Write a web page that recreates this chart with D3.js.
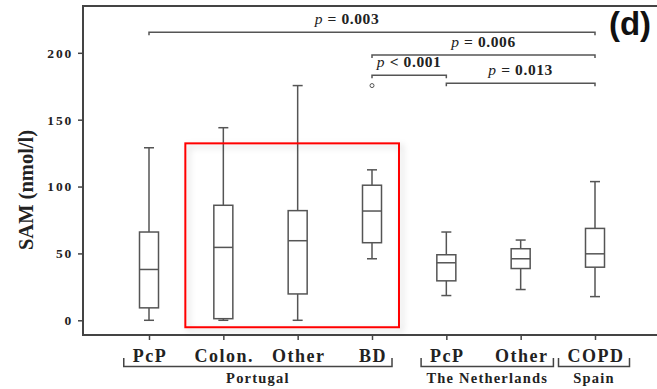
<!DOCTYPE html>
<html>
<head>
<meta charset="utf-8">
<script src="https://cdn.jsdelivr.net/npm/d3@7/dist/d3.min.js"></script>
<style>
  body { margin: 0; background: #fff; }
  svg { display: block; }
</style>
</head>
<body>
<div id="chart"></div>
<script>
// box plot values (nmol/l)
const categories  = ['PcP', 'Colon.', 'Other', 'BD', 'PcP', 'Other', 'COPD'];
const whiskerLow  = [0, 0, 0, 46, 18.5, 23, 17.7];
const q1          = [9.3, 1.2, 19.7, 58, 29.5, 38.7, 39.7];
const median      = [38, 54.5, 59.5, 81.7, 43, 46, 49.7];
const q3          = [66, 86, 82, 101, 49, 53.5, 68.7];
const whiskerHigh = [129, 144, 175.5, 112.5, 66, 60, 103.7];
const outliers    = [{ cat: 3, value: 175.5 }];
const yTicks      = [0, 50, 100, 150, 200];

const groups = [
  { name: 'Portugal', from: 0, to: 3 },
  { name: 'The Netherlands', from: 4, to: 5 },
  { name: 'Spain', from: 6, to: 6 }
];

// significance brackets (level = height in data units)
const comparisons = [
  { from: 0, to: 6, level: 215.3, label: '= 0.003', dx: -25 },
  { from: 3, to: 6, level: 198.3, label: '= 0.006', dx: 0 },
  { from: 3, to: 4, level: 183.3, label: '< 0.001', dx: 0 },
  { from: 4, to: 6, level: 177.2, label: '= 0.013', dx: 0 }
];

const SERIF = '"Liberation Serif", "Times New Roman", Times, serif';
const width = 657, height = 389;
const plotLeft = 83, plotTop = 6, plotBottom = 335;

const svg = d3.select('#chart').append('svg')
  .attr('width', width)
  .attr('height', height);

const defs = svg.append('defs');
const shadow = defs.append('filter').attr('id', 'shadow')
  .attr('x', '-10%').attr('y', '-10%').attr('width', '130%').attr('height', '130%');
shadow.append('feDropShadow')
  .attr('dx', 3).attr('dy', 3).attr('stdDeviation', 3)
  .attr('flood-color', '#000').attr('flood-opacity', 0.18);

function serif(sel, size, spacing) {
  return sel
    .style('font-family', SERIF)
    .style('font-weight', 'bold')
    .style('font-size', size + 'px')
    .style('letter-spacing', spacing + 'px')
    .attr('fill', '#222');
}

const x = d3.scalePoint()
  .domain(d3.range(categories.length))
  .range([149, 595]);

const y = d3.scaleLinear()
  .domain([-11, 235])
  .range([plotBottom, plotTop]);

// frame: left, top, bottom
svg.append('path')
  .attr('d', `M${width},${plotTop}H${plotLeft}V${plotBottom}H${width}`)
  .attr('fill', 'none')
  .attr('stroke', '#444')
  .attr('stroke-width', 2);

// y axis
const yAxis = svg.append('g')
  .attr('transform', `translate(${plotLeft},0)`)
  .call(d3.axisLeft(y).tickValues(yTicks).tickSize(5).tickPadding(5));
yAxis.select('.domain').remove();
yAxis.selectAll('line').attr('stroke', '#444').attr('stroke-width', 1.5);
serif(yAxis.selectAll('text'), 13.5, 1.8);

// x axis ticks
const xAxis = svg.append('g')
  .attr('transform', `translate(0,${plotBottom})`)
  .call(d3.axisBottom(x).tickSize(5).tickFormat(''));
xAxis.select('.domain').remove();
xAxis.selectAll('line').attr('stroke', '#444').attr('stroke-width', 1.5);

// category labels
const catLabels = svg.append('g').selectAll('text')
  .data(categories)
  .join('text')
  .attr('x', (d, i) => x(i) + 1)
  .attr('y', 362)
  .attr('text-anchor', 'middle')
  .text(d => d);
serif(catLabels, 18, 1.5);

// group brackets sized from the label extents
const boxes = catLabels.nodes().map(n => n.getBBox());
const gb = svg.append('g');
groups.forEach(g => {
  const x0 = boxes[g.from].x - 9;
  const x1 = boxes[g.to].x + boxes[g.to].width + 5;
  gb.append('path')
    .attr('d', `M${x0},358V366.5H${x1}V358`)
    .attr('fill', 'none')
    .attr('stroke', '#444')
    .attr('stroke-width', 1.5);
  serif(gb.append('text'), 14.5, 1.2)
    .attr('x', (x0 + x1) / 2)
    .attr('y', 383)
    .attr('text-anchor', 'middle')
    .text(g.name);
});

// boxes
const bw = 19, cap = 10;
const bp = svg.append('g')
  .attr('stroke', '#555')
  .attr('stroke-width', 1.5)
  .attr('fill', 'none');

categories.forEach((c, i) => {
  const cx = x(i);
  bp.append('line')
    .attr('x1', cx).attr('x2', cx)
    .attr('y1', y(q3[i])).attr('y2', y(whiskerHigh[i]));
  bp.append('line')
    .attr('x1', cx).attr('x2', cx)
    .attr('y1', y(q1[i])).attr('y2', y(whiskerLow[i]));
  bp.append('line')
    .attr('x1', cx - cap / 2).attr('x2', cx + cap / 2)
    .attr('y1', y(whiskerHigh[i])).attr('y2', y(whiskerHigh[i]));
  bp.append('line')
    .attr('x1', cx - cap / 2).attr('x2', cx + cap / 2)
    .attr('y1', y(whiskerLow[i])).attr('y2', y(whiskerLow[i]));
  bp.append('rect')
    .attr('x', cx - bw / 2)
    .attr('y', y(q3[i]))
    .attr('width', bw)
    .attr('height', y(q1[i]) - y(q3[i]))
    .attr('fill', '#fff');
  bp.append('line')
    .attr('x1', cx - bw / 2).attr('x2', cx + bw / 2)
    .attr('y1', y(median[i])).attr('y2', y(median[i]));
});

bp.selectAll('circle')
  .data(outliers)
  .join('circle')
  .attr('cx', d => x(d.cat))
  .attr('cy', d => y(d.value))
  .attr('r', 2)
  .attr('stroke-width', 1);

// highlight box around Colon./Other/BD
svg.append('rect')
  .attr('x', x(1) - 38)
  .attr('y', y(132.3))
  .attr('width', x(3) + 27 - (x(1) - 38))
  .attr('height', y(-5.2) - y(132.3))
  .attr('fill', 'none')
  .attr('stroke', '#f00')
  .attr('stroke-width', 2)
  .attr('filter', 'url(#shadow)');

// significance brackets
const sig = svg.append('g');
comparisons.forEach(c => {
  const x0 = x(c.from), x1 = x(c.to), yy = y(c.level);
  sig.append('path')
    .attr('d', `M${x0},${yy + 3}V${yy}H${x1}V${yy + 3}`)
    .attr('fill', 'none')
    .attr('stroke', '#555')
    .attr('stroke-width', 1.5);
  const t = serif(sig.append('text'), 15.5, 0.6)
    .attr('x', (x0 + x1) / 2 + c.dx)
    .attr('y', yy - 8)
    .attr('text-anchor', 'middle');
  t.append('tspan').style('font-style', 'italic').style('font-weight', 'normal').text('p');
  t.append('tspan').text(' ' + c.label);
});

// y axis title
serif(svg.append('text'), 20.5, 0)
  .attr('transform', `translate(33,190) rotate(-90)`)
  .attr('text-anchor', 'middle')
  .text('SAM (nmol/l)');

// panel tag
svg.append('text')
  .attr('x', 630)
  .attr('y', 35)
  .attr('text-anchor', 'middle')
  .style('font-family', '"Liberation Sans", Arial, sans-serif')
  .style('font-weight', 'bold')
  .style('font-size', '33px')
  .attr('fill', '#111')
  .text('(d)');
</script>
</body>
</html>
